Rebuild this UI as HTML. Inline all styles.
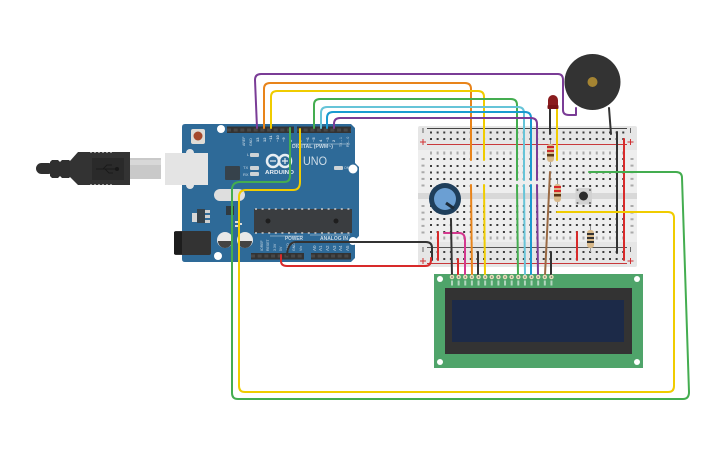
<!DOCTYPE html>
<html><head><meta charset="utf-8"><style>
html,body{margin:0;padding:0;background:#fff;width:725px;height:453px;overflow:hidden}
svg{display:block;filter:blur(.35px)}
text{font-family:"Liberation Sans",sans-serif}
.w{fill:none;stroke-width:2;stroke-linecap:round;stroke-linejoin:round}
.h{stroke:#3c3c3c;stroke-width:2;stroke-dasharray:2 4.63}
.r{stroke:#3c3c3c;stroke-width:2;stroke-dasharray:2 4.63 2 4.63 2 4.63 2 4.63 2 4.63 2 11.26}
.l{stroke:#aaa;stroke-width:3;stroke-dasharray:2 4.63}
</style></head><body>
<svg width="725" height="453" viewBox="0 0 725 453" xmlns="http://www.w3.org/2000/svg">
<!-- USB -->
<rect x="36" y="163" width="18" height="11" rx="5.500" fill="#2f2f2f"/>
<path d="M50 162L52 160H58L60 162L62 160H69L71 162V176L69 178H62L60 176L58 178H52L50 176Z" fill="#2f2f2f"/>
<path d="M70 161L78 152H130V185H78L70 177Z" fill="#333"/>
<rect x="92" y="158" width="32" height="22" fill="#2a2a2a"/>
<path d="M96 169H118M103 169L107 165H112M105 169L109 173H113" stroke="#1a1a1a" fill="none"/><circle cx="117" cy="169" r="2" fill="#181818"/>
<line x1="90" y1="152.500" x2="114" y2="152.500" stroke="#999" stroke-dasharray="2 2"/><line x1="90" y1="184.500" x2="114" y2="184.500" stroke="#999" stroke-dasharray="2 2"/>
<rect x="130" y="158" width="31" height="21" fill="#c9c9c9"/><rect x="130" y="160" width="31" height="5" fill="#d8d8d8"/>
<!-- Arduino -->
<path d="M185 124H351L355 128V163L359 167V236L355 240V258L351 262H185Q182 262 182 259V127Q182 124 185 124Z" fill="#2e6a98"/>
<rect x="165" y="153" width="43" height="32" fill="#e4e4e4"/><circle cx="190" cy="153" r="4" fill="#e4e4e4"/><circle cx="190" cy="185" r="4" fill="#e4e4e4"/>
<rect x="191" y="129" width="14" height="15" rx="2" fill="#dfdcd6"/><circle cx="198" cy="136" r="4.500" fill="#a5492c"/>
<circle cx="221" cy="129" r="4" fill="#fff"/><circle cx="353" cy="169" r="4.500" fill="#fff"/><circle cx="218" cy="256" r="4" fill="#fff"/><circle cx="353" cy="241" r="4" fill="#fff"/>
<!-- headers -->
<rect x="227" y="126.500" width="67" height="6.500" fill="#333"/><rect x="297" y="126.500" width="54" height="6.500" fill="#333"/>
<rect x="251" y="253" width="53" height="6.500" fill="#333"/><rect x="311" y="253" width="40" height="6.500" fill="#333"/>
<line x1="227" y1="130" x2="294" y2="130" stroke="#484848" stroke-width="3" stroke-dasharray="4 2.670"/>
<line x1="297" y1="130" x2="351" y2="130" stroke="#484848" stroke-width="3" stroke-dasharray="4 2.670"/>
<line x1="251" y1="256" x2="304" y2="256" stroke="#484848" stroke-width="3" stroke-dasharray="4 2.670"/>
<line x1="311" y1="256" x2="351" y2="256" stroke="#484848" stroke-width="3" stroke-dasharray="4 2.670"/>
<!-- labels -->
<g fill="#c9d9e5" font-size="3.500">
<text transform="translate(245,146) rotate(-90)">AREF</text><text transform="translate(252,146) rotate(-90)">GND</text>
<g font-weight="bold" font-size="4">
<text transform="translate(259,142) rotate(-90)">13</text><text transform="translate(266,142) rotate(-90)">12</text><text transform="translate(272,142) rotate(-90)">~11</text><text transform="translate(279,142) rotate(-90)">~10</text><text transform="translate(285,142) rotate(-90)">~9</text><text transform="translate(292,142) rotate(-90)">8</text>
<text transform="translate(302,142) rotate(-90)">7</text><text transform="translate(309,142) rotate(-90)">~6</text><text transform="translate(315,142) rotate(-90)">~5</text><text transform="translate(322,142) rotate(-90)">4</text><text transform="translate(329,142) rotate(-90)">~3</text><text transform="translate(335,142) rotate(-90)">2</text></g>
<text transform="translate(342,147) rotate(-90)">TX→1</text><text transform="translate(349,147) rotate(-90)">RX←0</text>
<text x="292" y="148" font-size="5" font-weight="bold" textLength="41" lengthAdjust="spacingAndGlyphs">DIGITAL (PWM~)</text>
<text x="247" y="156" font-size="4">L</text><text x="243" y="169" font-size="4">TX</text><text x="243" y="176" font-size="4">RX</text>
<text x="344" y="169" font-size="3.500">ON</text>
<text x="265" y="174" font-size="5.500" font-weight="bold" fill="#e8eef3" textLength="29" lengthAdjust="spacingAndGlyphs">ARDUINO</text>
<text x="303" y="165" font-size="11.500" fill="#cfdde8" textLength="24" lengthAdjust="spacingAndGlyphs">UNO</text>
<text x="285" y="240" font-size="5" font-weight="bold" textLength="18" lengthAdjust="spacingAndGlyphs">POWER</text><text x="320" y="240" font-size="5" font-weight="bold" textLength="28" lengthAdjust="spacingAndGlyphs">ANALOG IN</text>
<text transform="translate(263,251) rotate(-90)">IOREF</text><text transform="translate(269,251) rotate(-90)">RESET</text><text transform="translate(276,251) rotate(-90)">3.3V</text><text transform="translate(282,251) rotate(-90)">5V</text><text transform="translate(289,251) rotate(-90)">GND</text><text transform="translate(295,251) rotate(-90)">GND</text><text transform="translate(302,251) rotate(-90)">Vin</text>
<text transform="translate(316,251) rotate(-90)" font-size="4.500">A0</text><text transform="translate(322,251) rotate(-90)" font-size="4.500">A1</text><text transform="translate(329,251) rotate(-90)" font-size="4.500">A2</text><text transform="translate(336,251) rotate(-90)" font-size="4.500">A3</text><text transform="translate(342,251) rotate(-90)" font-size="4.500">A4</text><text transform="translate(349,251) rotate(-90)" font-size="4.500">A5</text>
</g>
<line x1="270" y1="236" x2="303" y2="236" stroke="#cfdde8" stroke-width=".6"/><line x1="310" y1="235" x2="350" y2="235" stroke="#cfdde8" stroke-width=".6"/><line x1="293" y1="144" x2="350" y2="144" stroke="#cfdde8" stroke-width=".6"/>
<g fill="none" stroke="#e8eef3" stroke-width="2.500"><circle cx="273" cy="161" r="6"/><circle cx="285" cy="161" r="6"/></g>
<path d="M270 161h6M282 161h6M285 158v6" stroke="#e8eef3" stroke-width="1.200"/>
<rect x="250" y="153" width="9" height="4" rx="1" fill="#cdd3d6"/><rect x="250" y="166" width="9" height="4" rx="1" fill="#cdd3d6"/><rect x="250" y="172" width="9" height="4" rx="1" fill="#cdd3d6"/><rect x="334" y="166" width="9" height="4" rx="1" fill="#cdd3d6"/>
<rect x="225" y="166" width="15" height="14" rx="1" fill="#36424b"/>
<rect x="214" y="189" width="31" height="12" rx="6" fill="#dedede"/>
<rect x="226" y="206" width="8" height="9" fill="#2f3a42"/>
<rect x="197" y="209" width="8" height="14" fill="#36424b"/><rect x="192" y="213" width="5" height="9" fill="#d8d8d8"/><rect x="205" y="210" width="5" height="3" fill="#cfcfcf"/><rect x="205" y="215" width="5" height="3" fill="#cfcfcf"/><rect x="205" y="220" width="5" height="3" fill="#cfcfcf"/>
<rect x="235" y="221" width="3" height="2" fill="#ddd"/><rect x="235" y="225" width="3" height="2" fill="#ddd"/><rect x="240" y="223" width="2" height="2" fill="#ddd"/>
<circle cx="225" cy="240" r="8" fill="#e8e8e8"/><path d="M218 241A7 7 0 0 0 232 241Z" fill="#444"/>
<circle cx="245" cy="240" r="8" fill="#e8e8e8"/><path d="M238 241A7 7 0 0 0 252 241Z" fill="#444"/>
<rect x="174" y="231" width="37" height="24" rx="2" fill="#333"/><rect x="174" y="232" width="8" height="22" fill="#1d1d1d"/>
<rect x="254" y="209" width="98" height="24" fill="#3a3d40"/>
<line x1="255" y1="209" x2="352" y2="209" stroke="#ccc" stroke-width="1.400" stroke-dasharray="2 4.600"/><line x1="255" y1="233" x2="352" y2="233" stroke="#ccc" stroke-width="1.400" stroke-dasharray="2 4.600"/>
<circle cx="268" cy="221" r="2.500" fill="#1e1e1e"/><circle cx="336" cy="221" r="2.500" fill="#1e1e1e"/>
<!-- Breadboard -->
<rect x="418" y="126" width="219" height="141" rx="2" fill="#e6e6e6"/>
<rect x="418" y="150" width="219" height="92" fill="#eeeeee"/>
<rect x="418" y="193" width="219" height="6" fill="#d8d8d8"/>
<line x1="427" y1="128.500" x2="627" y2="128.500" stroke="#444"/>
<line x1="427" y1="144.500" x2="627" y2="144.500" stroke="#c8383a"/>
<line x1="427" y1="247.500" x2="627" y2="247.500" stroke="#555"/>
<line x1="427" y1="263.500" x2="627" y2="263.500" stroke="#c8383a"/>
<path d="M423 128v5M630.500 128v5M423 247v5M630.500 247v5" stroke="#666"/>
<path d="M420 142h6M423 139v6M627.500 142h6M630.500 139v6M420 261h6M423 258v6M627.500 261h6M630.500 258v6" stroke="#d03032"/>
<g><line class="h" x1="430" y1="132.500" x2="625" y2="132.500"/><line class="h" x1="430" y1="139" x2="625" y2="139"/><line class="h" x1="430" y1="252" x2="625" y2="252"/><line class="h" x1="430" y1="259" x2="625" y2="259"/>
<line class="h" x1="430" y1="159" x2="625" y2="159"/><line class="h" x1="430" y1="166" x2="625" y2="166"/><line class="h" x1="430" y1="172.500" x2="625" y2="172.500"/><line class="h" x1="430" y1="179" x2="625" y2="179"/><line class="h" x1="430" y1="186" x2="625" y2="186"/>
<line class="h" x1="430" y1="206" x2="625" y2="206"/><line class="h" x1="430" y1="212" x2="625" y2="212"/><line class="h" x1="430" y1="219" x2="625" y2="219"/><line class="h" x1="430" y1="225" x2="625" y2="225"/><line class="h" x1="430" y1="232" x2="625" y2="232"/></g>
<line class="l" x1="430" y1="153" x2="625" y2="153"/>
<line class="l" x1="430" y1="238" x2="625" y2="238"/>
<line class="l" x1="423" y1="158" x2="423" y2="188"/><line class="l" x1="632" y1="158" x2="632" y2="188"/><line class="l" x1="423" y1="205" x2="423" y2="238"/><line class="l" x1="632" y1="205" x2="632" y2="238"/>
<!-- LCD -->
<rect x="434" y="274" width="209" height="94" fill="#4fa46a"/>
<circle cx="440" cy="279" r="3" fill="#fff"/><circle cx="637" cy="279" r="3" fill="#fff"/><circle cx="440" cy="362" r="3" fill="#fff"/><circle cx="637" cy="362" r="3" fill="#fff"/>
<rect x="445" y="288" width="187" height="66" fill="#333"/>
<rect x="452" y="300" width="172" height="42" fill="#1c2a48"/>
<line x1="451" y1="283" x2="553" y2="283" stroke="#b4d6bf" stroke-width="5" stroke-dasharray="2 4.630"/>
<!-- Pot -->
<circle cx="445" cy="199" r="16" fill="#1f3f5c"/><circle cx="445" cy="199" r="11" fill="#6b9fd3"/>
<line x1="446" y1="203" x2="454" y2="208.500" stroke="#1d2c3a" stroke-width="3"/>
<!-- Button -->
<rect x="575.500" y="188" width="16.500" height="16.500" rx="1" fill="#d2d2d2"/><circle cx="583.500" cy="196" r="4.500" fill="#2b2b2b"/>
<g fill="#666"><circle cx="577.500" cy="190" r="1"/><circle cx="590" cy="190" r="1"/><circle cx="577.500" cy="203" r="1"/><circle cx="590" cy="203" r="1"/></g>
<!-- Resistors -->
<g>
<line x1="550.500" y1="140" x2="550.500" y2="166" stroke="#999"/><rect x="547" y="144" width="7" height="18" rx="3" fill="#d9b98a"/><rect x="547" y="146" width="7" height="2" fill="#c8282a"/><rect x="547" y="150" width="7" height="2" fill="#c8282a"/><rect x="547" y="154" width="7" height="2.500" fill="#5a3818"/>
<line x1="557.500" y1="180" x2="557.500" y2="206" stroke="#999"/><rect x="554" y="184" width="7" height="18" rx="3" fill="#d9b98a"/><rect x="554" y="186" width="7" height="2" fill="#d8282a"/><rect x="554" y="190" width="7" height="2" fill="#d8282a"/><rect x="554" y="194" width="7" height="2.500" fill="#5a3818"/>
<line x1="590.500" y1="226" x2="590.500" y2="252" stroke="#999"/><rect x="587" y="230" width="7" height="18" rx="3" fill="#d9b98a"/><rect x="587" y="233" width="7" height="2" fill="#333"/><rect x="587" y="237" width="7" height="2" fill="#333"/><rect x="587" y="241" width="7" height="2" fill="#333"/>
</g>
<!-- Breadboard wires -->
<path class="w" d="M617 132V253" stroke="#333"/>
<path class="w" d="M624 139V260" stroke="#d82a2a"/>
<path class="w" d="M438 232V260" stroke="#d82a2a"/>
<path class="w" d="M577 232V260" stroke="#d82a2a"/>
<path class="w" d="M444 233H459Q465 233 465 240V276" stroke="#d4388e"/>
<path class="w" d="M451 220L452 276" stroke="#333"/>
<path class="w" d="M458 259V276" stroke="#d82a2a"/>
<path class="w" d="M478 252V276" stroke="#333"/>
<path class="w" d="M551 252V276" stroke="#333"/>
<path class="w" d="M550 109V134" stroke="#333"/>
<path class="w" d="M550 172L545 275" stroke="#9a6a44"/>
<path class="w" d="M471 185L472 276" stroke="#e8841a"/>
<path class="w" d="M484 185L485 276" stroke="#f0cc00"/>
<path class="w" d="M517 185L518 276" stroke="#44ad50"/>
<path class="w" d="M524 185L525 276" stroke="#66c4d8"/>
<path class="w" d="M531 185L531 276" stroke="#1a9ad0"/>
<path class="w" d="M537 185L538 276" stroke="#7a3c96"/>
<!-- LCD pins -->
<line x1="452" y1="277" x2="552" y2="277" stroke="#e6dfb8" stroke-width="4.500" stroke-linecap="round" stroke-dasharray="0 6.630"/>
<line x1="452" y1="277" x2="552" y2="277" stroke="#666" stroke-width="1.600" stroke-linecap="round" stroke-dasharray="0 6.630"/>
<!-- Top wires -->
<path class="w" d="M257 128L255 80Q255 74 261 74H558Q563 74 563 80V110Q563 115 569 115H576V108" stroke="#7a3c96"/>
<path class="w" d="M264 128V89Q264 83 270 83H465Q471 83 471 89V160" stroke="#e8841a"/>
<path class="w" d="M271 128V97Q271 91 277 91H478Q484 91 484 97V160" stroke="#f0cc00"/>
<path class="w" d="M314 128V105Q314 99 320 99H511Q517 99 517 105V180" stroke="#44ad50"/>
<path class="w" d="M321 128V113Q321 107 327 107H518Q524 107 524 113V180" stroke="#66c4d8"/>
<path class="w" d="M327 128V118Q327 112 333 112H525Q531 112 531 118V180" stroke="#1a9ad0"/>
<path class="w" d="M334 128V124Q334 118 340 118H531Q537 118 537 124V180" stroke="#7a3c96"/>
<!-- LED, buzzer -->
<path class="w" d="M557 109V160" stroke="#f0cc00"/>
<path d="M548 108V100A5 5 0 0 1 558 100V108Z" fill="#8a1c1e"/><rect x="547.500" y="105" width="11" height="4" rx="1" fill="#7a1416"/>
<path class="w" d="M609 108L611 134" stroke="#333"/>
<circle cx="592.500" cy="82" r="28" fill="#333"/><circle cx="592.500" cy="82" r="5" fill="#a58432"/>
<!-- Long wires -->
<path class="w" d="M589 172H676Q682 172 682 178L689 392Q689 399 683 399H238Q232 399 232 393V190Q232 182 240 182H284Q290 182 290 176V128" stroke="#44ad50"/>
<path class="w" d="M557 212H668Q674 212 674 218V386Q674 392 668 392H245Q239 392 239 386V197Q239 190 246 190H293Q300 190 300 182V129" stroke="#f0cc00"/>
<path class="w" d="M287 255Q288 242 296 242H426Q432 242 432 248V260" stroke="#333"/>
<path class="w" d="M281 255V261Q281 266 287 266H425Q431 266 431 260V258" stroke="#d82a2a"/>
</svg>
</body></html>
